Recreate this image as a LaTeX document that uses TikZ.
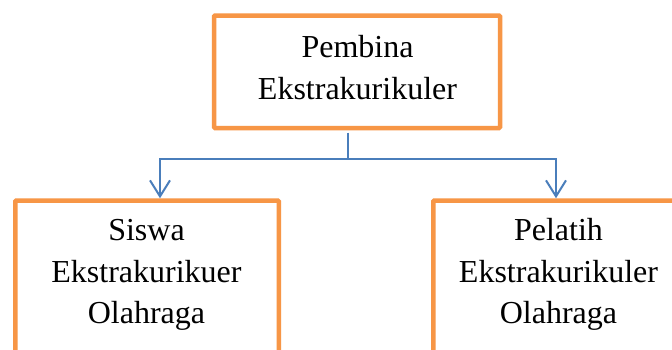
\documentclass[tikz,border=0pt]{standalone}
\usepackage{fontspec}
\setmainfont{Liberation Serif}
\usetikzlibrary{arrows.meta}
\definecolor{boxorange}{HTML}{F79646}
\definecolor{linkblue}{HTML}{4A7EBB}
\begin{document}
\begin{tikzpicture}[x=1pt,y=-1pt,
  box/.style={draw=boxorange, line width=4.5pt, rounded corners=1pt, inner sep=0pt},
  lbl/.style={font=\fontsize{32}{38}\selectfont, anchor=base, inner sep=0pt, text=black},
  link/.style={draw=linkblue, line width=1.6pt},
  arr/.style={draw=linkblue, line width=2pt, -{Straight Barb[length=16pt,width=20pt]}}]
\useasboundingbox (0,0) rectangle (672,349);
\clip (0,0) rectangle (672,349);
\fill[white] (0,0) rectangle (672,349);

\node[box, minimum width=286pt, minimum height=112.5pt] (top) at (357,71.75) {};
\node[box, minimum width=263.5pt, minimum height=200pt, anchor=north] (left) at (147,198.25) {};
\node[box, minimum width=250.5pt, minimum height=200pt, anchor=north] (right) at (558.5,198.25) {};

\node[lbl] (t1) at (357.5,57) {Pembina};
\node[lbl] (t2) at (357.5,99) {Ekstrakurikuler};

\node[lbl] (l1) at (146.5,240) {Siswa};
\node[lbl] (l2) at (146.5,282) {Ekstrakurikuer};
\node[lbl] (l3) at (146.5,323) {Olahraga};

\node[lbl] (r1) at (558.5,240) {Pelatih};
\node[lbl] (r2) at (558.5,282) {Ekstrakurikuler};
\node[lbl] (r3) at (558.5,323) {Olahraga};

\coordinate (j) at ([xshift=-9pt,yshift=-2.25pt]top.south);
\draw[link] (j) -- ++(0,26.75) coordinate (hub);
\draw[arr] (hub) -| ([xshift=13pt]left.north);
\draw[arr] (hub) -| ([xshift=-2.5pt]right.north);
\end{tikzpicture}
\end{document}
